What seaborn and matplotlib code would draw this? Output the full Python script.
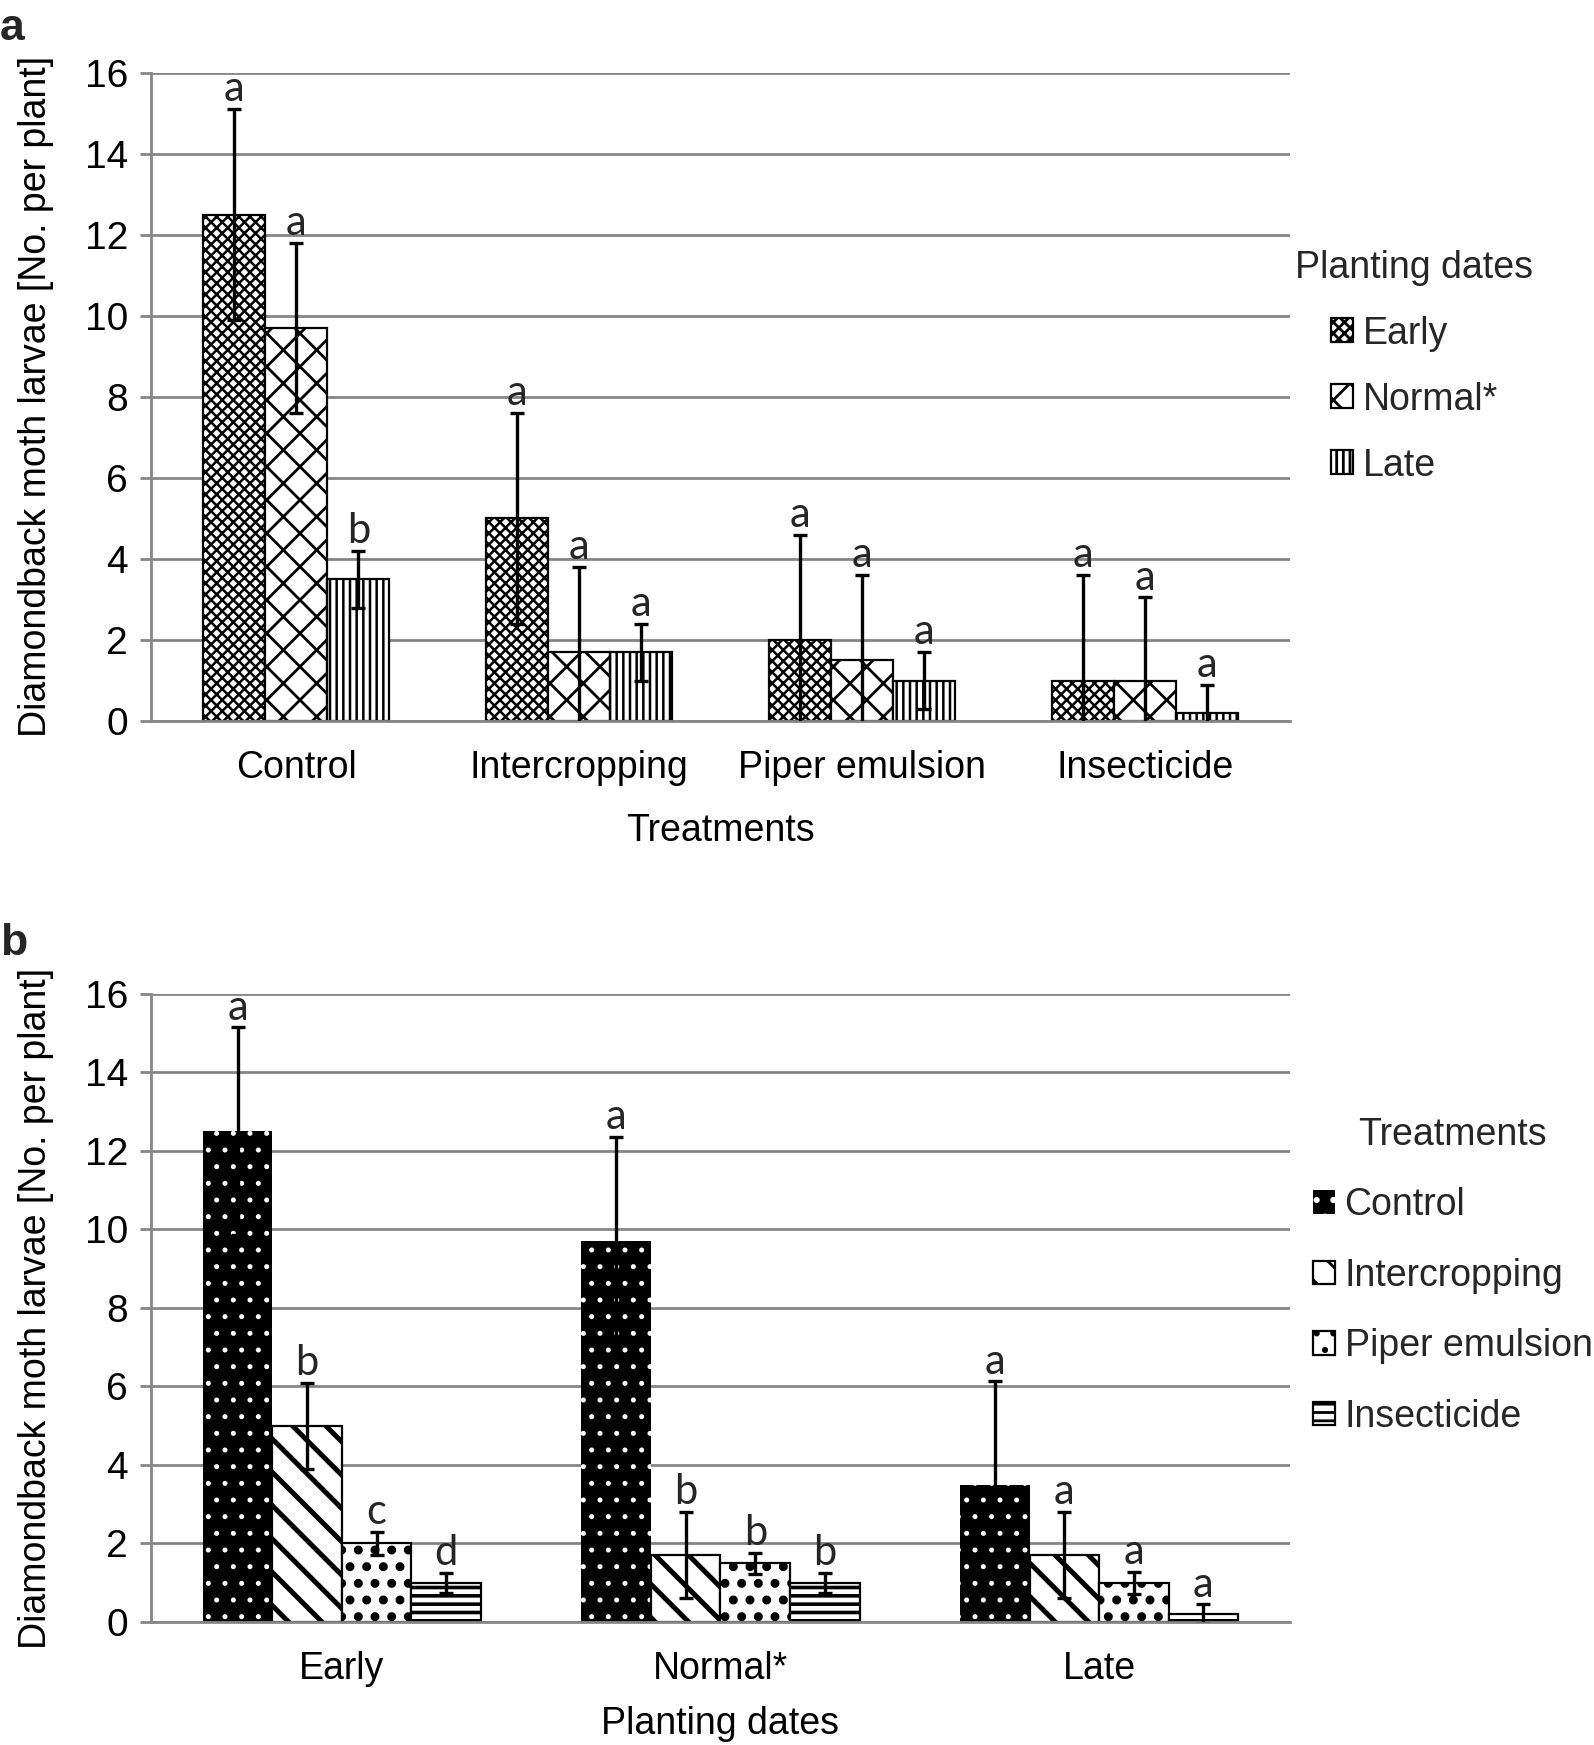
import matplotlib
matplotlib.use("Agg")
import matplotlib.pyplot as plt
import seaborn as sns
import pandas as pd

# === data ===
treatments = ["Control", "Intercropping", "Piper emulsion", "Insecticide"]
dates = ["Early", "Normal*", "Late"]

# mean larvae per plant for each planting date (order = treatments)
early_vals = [12.5, 5.0, 2.0, 1.0]
normal_vals = [9.7, 1.7, 1.5, 1.0]
late_vals = [3.5, 1.7, 1.0, 0.2]

# panel a: error bars and letters (order = treatments)
early_err_a = [2.6, 2.6, 2.6, 2.6]
normal_err_a = [2.1, 2.1, 2.1, 2.05]
late_err_a = [0.7, 0.7, 0.7, 0.7]
early_let_a = ["a", "a", "a", "a"]
normal_let_a = ["a", "a", "a", "a"]
late_let_a = ["b", "a", "a", "a"]

# panel b: error bars and letters (order = dates)
control_err_b = [2.65, 2.65, 2.63]
intercrop_err_b = [1.1, 1.1, 1.1]
piper_err_b = [0.3, 0.27, 0.28]
insect_err_b = [0.25, 0.25, 0.25]
control_let_b = ["a", "a", "a"]
intercrop_let_b = ["b", "b", "a"]
piper_let_b = ["c", "b", "a"]
insect_let_b = ["d", "b", "a"]

# === long table ===
vals = {"Early": early_vals, "Normal*": normal_vals, "Late": late_vals}
errs_a = {"Early": early_err_a, "Normal*": normal_err_a, "Late": late_err_a}
lets_a = {"Early": early_let_a, "Normal*": normal_let_a, "Late": late_let_a}
errs_b = dict(zip(treatments, [control_err_b, intercrop_err_b, piper_err_b, insect_err_b]))
lets_b = dict(zip(treatments, [control_let_b, intercrop_let_b, piper_let_b, insect_let_b]))

rows = []
for di, d in enumerate(dates):
    for ti, t in enumerate(treatments):
        rows.append(dict(treatment=t, date=d, value=vals[d][ti],
                         err_a=errs_a[d][ti], let_a=lets_a[d][ti],
                         err_b=errs_b[t][di], let_b=lets_b[t][di]))
df = pd.DataFrame(rows)

# === style ===
sns.set_theme(style="white")
plt.rcParams["font.family"] = ["Liberation Sans", "DejaVu Sans"]
grid_col = "#868686"
fs = 13.5

styles_a = {
    "Early": dict(fc="white", ec="black", hatch="xxxxxx", hlw=0.9, lw=0.8),
    "Normal*": dict(fc="white", ec="black", hatch="xx", hlw=1.0, lw=0.8),
    "Late": dict(fc="white", ec="black", hatch="|||||", hlw=0.9, lw=0.8),
}
styles_b = {
    "Control": dict(fc="black", ec="white", hatch="..", hlw=0.6, lw=0),
    "Intercropping": dict(fc="white", ec="black", hatch="\\\\", hlw=1.8, lw=0.8),
    "Piper emulsion": dict(fc="white", ec="black", hatch="..", hlw=2.0, lw=0.8),
    "Insecticide": dict(fc="white", ec="black", hatch="----", hlw=1.3, lw=0.8),
}

fig = plt.figure(figsize=(7.97, 8.725), dpi=200)
ax_a = fig.add_axes([0.0947, 0.5868, 0.7146, 0.3715])
ax_b = fig.add_axes([0.0947, 0.0705, 0.7146, 0.3599])


def draw_panel(ax, x, hue, order, hue_order, err_col, let_col, width, styles,
               xlabel, xlabelpad, leg_title, leg_xy, leg_spacing):
    sns.barplot(data=df, x=x, y="value", hue=hue, order=order, hue_order=hue_order,
                errorbar=None, width=width, legend=False, ax=ax,
                palette={h: "white" for h in hue_order}, saturation=1)

    for cont, h in zip(ax.containers, hue_order):
        st = styles[h]
        sub = df[df[hue] == h].set_index(x).loc[order]
        xs, ys = [], []
        for patch, (_, row) in zip(cont.patches, sub.iterrows()):
            patch.set_facecolor(st["fc"])
            patch.set_edgecolor(st["ec"])
            patch.set_hatch(st["hatch"])
            patch.set_linewidth(st["lw"])
            if hasattr(patch, "set_hatch_linewidth"):
                patch.set_hatch_linewidth(st["hlw"])
            xs.append(patch.get_x() + patch.get_width() / 2)
            ys.append(patch.get_height())
        ax.errorbar(xs, ys, yerr=sub[err_col].values, fmt="none", ecolor="black",
                    elinewidth=1.2, capsize=2.4, capthick=1.2, zorder=5)
        for xx, yy, e, lab in zip(xs, ys, sub[err_col].values, sub[let_col].values):
            ax.text(xx, yy + e + 0.02, lab, ha="center", va="bottom",
                    fontsize=15, family=["Lato", "DejaVu Sans"], zorder=6)

    ax.set_ylim(0, 16)
    ax.set_yticks(range(0, 17, 2))
    ax.set_axisbelow(True)
    ax.yaxis.grid(True, color=grid_col, linewidth=1.0)
    ax.xaxis.grid(False)
    for s in ["top", "right"]:
        ax.spines[s].set_visible(False)
    for s in ["left", "bottom"]:
        ax.spines[s].set_color(grid_col)
        ax.spines[s].set_linewidth(1.0)
    ax.tick_params(axis="y", left=True, length=4, width=1.0, color=grid_col,
                   direction="out", pad=4.3, labelsize=14, labelcolor="black")
    ax.tick_params(axis="x", bottom=False, length=0, pad=10.5, labelsize=fs,
                   labelcolor="black")
    ax.set_xlabel(xlabel, fontsize=fs, labelpad=xlabelpad, color="black")
    ax.set_ylabel("Diamondback moth larvae [No. per plant]", fontsize=fs,
                  labelpad=11, color="black")

    ax.legend(handles=ax.containers, labels=hue_order, title=leg_title,
              loc="upper left", bbox_to_anchor=leg_xy, bbox_transform=fig.transFigure,
              frameon=False, fontsize=fs, title_fontsize=fs,
              handlelength=0.6, handleheight=0.6, handletextpad=0.25,
              labelspacing=leg_spacing, borderpad=0, borderaxespad=0)


draw_panel(ax_a, "treatment", "date", treatments, dates, "err_a", "let_a", 0.66,
           styles_a, "Treatments", 9.5, "Planting dates", (0.8125, 0.857), 0.8)
draw_panel(ax_b, "date", "treatment", dates, treatments, "err_b", "let_b", 0.735,
           styles_b, "Planting dates", 6.8, "Treatments", (0.8235, 0.360), 0.92)

fig.text(0.0, 1 - 40 / 1745, "a", fontsize=16, fontweight="bold", va="baseline")
fig.text(0.0, 1 - 955 / 1745, "b", fontsize=16, fontweight="bold", va="baseline")

fig.savefig("out.png", dpi=200)
